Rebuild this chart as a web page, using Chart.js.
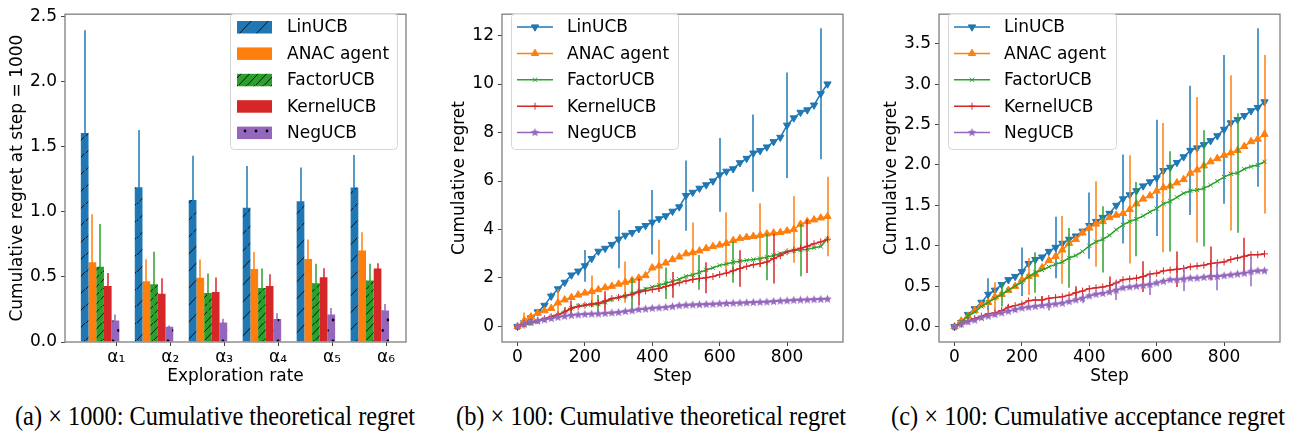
<!DOCTYPE html>
<html>
<head>
<meta charset="utf-8">
<script src="https://cdn.jsdelivr.net/npm/chart.js"></script>
<style>
  body { margin: 0; background: #fff; width: 1289px; height: 432px; overflow: hidden; position: relative; }
  canvas { position: absolute; top: 0; }
  .cap { position: absolute; top: 400px; font-family: "Liberation Serif", "Times New Roman", serif; font-size: 27px; line-height: 32px; white-space: nowrap; transform-origin: 0 50%; color: #000; }
</style>
</head>
<body>
<canvas id="chartA" width="430" height="390" style="left:0px"></canvas>
<canvas id="chartB" width="430" height="390" style="left:430px"></canvas>
<canvas id="chartC" width="429" height="390" style="left:860px"></canvas>
<div class="cap" id="capA">(a) × 1000: Cumulative theoretical regret</div>
<div class="cap" id="capB">(b) × 100: Cumulative theoretical regret</div>
<div class="cap" id="capC">(c) × 100: Cumulative acceptance regret</div>
<script>
// series names / colours (matplotlib tab10)
const names = ['LinUCB', 'ANAC agent', 'FactorUCB', 'KernelUCB', 'NegUCB'];
const colors = ['#1f77b4', '#ff7f0e', '#2ca02c', '#d62728', '#9467bd'];
const errColors = ['rgba(31,119,180,0.75)', 'rgba(255,127,14,0.75)', 'rgba(44,160,44,0.75)', 'rgba(214,39,40,0.75)', 'rgba(148,103,189,0.75)'];

// ---- (a) bar chart data ----
const alphaLabels = ['α₁', 'α₂', 'α₃', 'α₄', 'α₅', 'α₆'];
const alphaGroups = [0, 1, 2, 3, 4, 5];
const alphaTickPos = [0.3, 1.3, 2.3, 3.3, 4.3, 5.3];
const yTicksA = [0, 0.5, 1, 1.5, 2, 2.5];
const barLin = [1.606, 1.19, 1.092, 1.033, 1.082, 1.187];
const barLinErr = [0.79, 0.44, 0.34, 0.32, 0.26, 0.25];
const barAnac = [0.613, 0.467, 0.494, 0.561, 0.638, 0.703];
const barAnacErr = [0.37, 0.17, 0.14, 0.13, 0.15, 0.14];
const barFactor = [0.578, 0.444, 0.377, 0.415, 0.452, 0.472];
const barFactorErr = [0.33, 0.25, 0.15, 0.15, 0.15, 0.13];
const barKernel = [0.43, 0.37, 0.385, 0.43, 0.497, 0.566];
const barKernelErr = [0.10, 0.12, 0.11, 0.09, 0.07, 0.04];
const barNeg = [0.166, 0.117, 0.149, 0.176, 0.211, 0.243];
const barNegErr = [0.045, 0.01, 0.03, 0.045, 0.05, 0.05];

// ---- (b), (c) line chart data ----
const steps = [0, 20, 40, 60, 80, 100, 120, 140, 160, 180, 200, 220, 240, 260, 280, 300, 320, 340, 360, 380, 400, 420, 440, 460, 480, 500, 520, 540, 560, 580, 600, 620, 640, 660, 680, 700, 720, 740, 760, 780, 800, 820, 840, 860, 880, 900, 920];
const xTicksStep = [0, 200, 400, 600, 800];

const linB = [0, 0.15, 0.35, 0.6, 0.87, 1.25, 1.55, 1.82, 2.12, 2.28, 2.5, 2.8, 3.1, 3.22, 3.38, 3.6, 3.76, 3.87, 4.03, 4.16, 4.3, 4.44, 4.56, 4.75, 4.93, 5.4, 5.53, 5.7, 5.84, 6.0, 6.25, 6.4, 6.5, 6.75, 6.93, 7.15, 7.25, 7.4, 7.62, 7.8, 8.3, 8.6, 8.83, 8.93, 9.13, 9.6, 10.0];
const anacB = [0, 0.25, 0.4, 0.55, 0.65, 0.75, 0.98, 1.1, 1.2, 1.3, 1.38, 1.45, 1.52, 1.6, 1.66, 1.75, 1.83, 1.9, 2.0, 2.1, 2.42, 2.5, 2.62, 2.76, 2.87, 3.0, 3.05, 3.12, 3.22, 3.3, 3.36, 3.43, 3.55, 3.63, 3.68, 3.72, 3.76, 3.82, 3.86, 3.88, 3.94, 4.0, 4.22, 4.33, 4.4, 4.48, 4.54];
const factorB = [0, 0.05, 0.12, 0.2, 0.3, 0.4, 0.48, 0.6, 0.75, 0.85, 0.88, 0.9, 0.92, 1.0, 1.12, 1.2, 1.25, 1.35, 1.45, 1.55, 1.63, 1.7, 1.78, 1.86, 1.95, 2.07, 2.13, 2.23, 2.33, 2.42, 2.52, 2.58, 2.65, 2.69, 2.73, 2.76, 2.8, 2.86, 2.93, 3.01, 3.08, 3.13, 3.15, 3.18, 3.25, 3.3, 3.62];
const kernelB = [0, 0.12, 0.18, 0.25, 0.32, 0.4, 0.48, 0.6, 0.75, 0.82, 0.88, 0.93, 0.97, 1.05, 1.15, 1.2, 1.27, 1.33, 1.42, 1.47, 1.52, 1.57, 1.65, 1.72, 1.8, 1.88, 1.94, 1.98, 2.01, 2.06, 2.14, 2.2, 2.3, 2.39, 2.48, 2.55, 2.6, 2.66, 2.8, 2.92, 3.08, 3.15, 3.23, 3.31, 3.41, 3.49, 3.6];
const negB = [0, 0.1, 0.18, 0.23, 0.28, 0.33, 0.38, 0.42, 0.46, 0.48, 0.5, 0.51, 0.52, 0.54, 0.56, 0.58, 0.62, 0.65, 0.7, 0.72, 0.75, 0.77, 0.79, 0.82, 0.86, 0.88, 0.89, 0.9, 0.91, 0.92, 0.94, 0.95, 0.96, 0.97, 0.98, 0.99, 1.0, 1.01, 1.03, 1.05, 1.06, 1.08, 1.09, 1.1, 1.11, 1.12, 1.13];
// error half-widths, drawn every 5th point starting at offset = series index
const linBErr = [0.02, 0.15, 0.65, 1.2, 1.33, 1.45, 1.52, 1.59, 2.18, 2.7];
const anacBErr = [0.33, 0.57, 0.65, 0.85, 1.08, 1.24, 1.27, 1.32, 1.37, 1.64];
const factorBErr = [0.05, 0.2, 0.38, 0.65, 0.65, 0.72, 0.85, 0.95, 1.08];
const kernelBErr = [0.05, 0.32, 0.4, 0.55, 0.53, 0.64, 0.75, 1.03, 1.1];
const negBErr = [0.03, 0.04, 0.04, 0.05, 0.05, 0.05, 0.05, 0.05, 0.05];

const linC = [0, 0.05, 0.15, 0.22, 0.3, 0.4, 0.45, 0.52, 0.58, 0.62, 0.68, 0.78, 0.83, 0.86, 0.93, 0.98, 1.03, 1.08, 1.12, 1.18, 1.25, 1.3, 1.35, 1.4, 1.5, 1.58, 1.63, 1.68, 1.74, 1.79, 1.84, 1.93, 1.97, 2.03, 2.1, 2.18, 2.21, 2.25, 2.3, 2.36, 2.44, 2.52, 2.56, 2.61, 2.67, 2.71, 2.78];
const anacC = [0, 0.07, 0.13, 0.2, 0.27, 0.3, 0.37, 0.4, 0.45, 0.5, 0.58, 0.62, 0.65, 0.73, 0.82, 0.87, 0.95, 1.03, 1.08, 1.16, 1.22, 1.27, 1.3, 1.35, 1.38, 1.4, 1.45, 1.52, 1.58, 1.62, 1.68, 1.72, 1.74, 1.78, 1.82, 1.9, 1.94, 1.99, 2.04, 2.08, 2.12, 2.15, 2.18, 2.23, 2.29, 2.32, 2.38];
const factorC = [0, 0.06, 0.13, 0.18, 0.25, 0.3, 0.35, 0.4, 0.45, 0.5, 0.55, 0.62, 0.67, 0.7, 0.74, 0.77, 0.8, 0.85, 0.88, 0.93, 1.0, 1.05, 1.08, 1.13, 1.2, 1.26, 1.3, 1.33, 1.37, 1.42, 1.46, 1.52, 1.55, 1.6, 1.65, 1.68, 1.69, 1.71, 1.75, 1.8, 1.85, 1.89, 1.9, 1.95, 1.98, 2.0, 2.04];
const kernelC = [0, 0.03, 0.07, 0.1, 0.13, 0.16, 0.17, 0.2, 0.24, 0.26, 0.28, 0.32, 0.33, 0.33, 0.35, 0.36, 0.37, 0.39, 0.42, 0.44, 0.47, 0.48, 0.49, 0.51, 0.54, 0.58, 0.59, 0.6, 0.62, 0.65, 0.66, 0.69, 0.7, 0.71, 0.72, 0.74, 0.75, 0.76, 0.78, 0.79, 0.8, 0.83, 0.85, 0.87, 0.89, 0.89, 0.9];
const negC = [0, 0.03, 0.06, 0.08, 0.11, 0.13, 0.15, 0.17, 0.19, 0.21, 0.23, 0.24, 0.25, 0.26, 0.27, 0.28, 0.29, 0.31, 0.33, 0.35, 0.38, 0.4, 0.41, 0.43, 0.45, 0.48, 0.49, 0.5, 0.51, 0.52, 0.54, 0.56, 0.58, 0.58, 0.59, 0.6, 0.6, 0.61, 0.62, 0.62, 0.63, 0.64, 0.65, 0.66, 0.68, 0.69, 0.69];
const linCErr = [0.01, 0.2, 0.3, 0.38, 0.41, 0.55, 0.72, 0.8, 0.92, 0.98];
const anacCErr = [0.05, 0.18, 0.23, 0.42, 0.53, 0.67, 0.8, 0.9, 0.96, 0.98];
const factorCErr = [0.04, 0.15, 0.25, 0.37, 0.41, 0.46, 0.62, 0.72, 0.74];
const kernelCErr = [0.02, 0.03, 0.05, 0.08, 0.11, 0.19, 0.22, 0.21, 0.23];
const negCErr = [0.02, 0.03, 0.07, 0.06, 0.12, 0.13, 0.15, 0.17, 0.18];

const yTicksB = [0, 2, 4, 6, 8, 10, 12];
const yTicksC = [0, 0.5, 1, 1.5, 2, 2.5, 3, 3.5];

Chart.defaults.font.family = '"DejaVu Sans", sans-serif';
Chart.defaults.font.size = 17;
Chart.defaults.color = '#000';

// hatch fills for the bars: base colour + black marks
function makeHatch(base, kind) {
  if (kind === 'none') return base;
  const c = document.createElement('canvas');
  const w = kind === 'dots' ? 11 : 17, h = kind === 'dots' ? 21 : 17;
  c.width = w; c.height = h;
  const g = c.getContext('2d');
  g.fillStyle = base; g.fillRect(0, 0, w, h);
  g.strokeStyle = 'rgba(0,0,0,0.85)'; g.fillStyle = '#000'; g.lineWidth = 1;
  const diag = (o) => { g.beginPath(); g.moveTo(o - 17, 17 + 1); g.lineTo(o + 1, -1); g.stroke(); };
  if (kind === '/') { diag(17); diag(34); }
  if (kind === '//') { diag(8.5); diag(17); diag(25.5); diag(34); }
  if (kind === 'dots') {
    g.beginPath(); g.arc(3, 5, 1.4, 0, Math.PI * 2); g.fill();
    g.beginPath(); g.arc(8.5, 15.5, 1.4, 0, Math.PI * 2); g.fill();
  }
  return g.createPattern(c, 'repeat');
}

// filled 5-point star marker (matplotlib '*')
function starImage(color, r) {
  const c = document.createElement('canvas');
  const s = Math.ceil(r * 2 + 2);
  c.width = s; c.height = s;
  const g = c.getContext('2d');
  g.fillStyle = color; g.beginPath();
  for (let k = 0; k < 10; k++) {
    const rr = k % 2 ? r * 0.45 : r;
    const a = -Math.PI / 2 + k * Math.PI / 5;
    g.lineTo(s / 2 + rr * Math.cos(a), s / 2 + rr * Math.sin(a));
  }
  g.closePath(); g.fill();
  return c;
}

const frame = {
  id: 'frame',
  afterDatasetsDraw(chart) {
    const a = chart.chartArea, ctx = chart.ctx;
    ctx.save();
    ctx.strokeStyle = '#7f7f7f'; ctx.lineWidth = 1.3;
    ctx.strokeRect(a.left, a.top, a.right - a.left, a.bottom - a.top);
    ctx.restore();
  }
};

// error bars, drawn right after their own dataset
const errBars = {
  id: 'errBars',
  afterDatasetDraw(chart, args) {
    const ds = chart.data.datasets[args.index];
    if (!ds.errors) return;
    const ctx = chart.ctx, y = chart.scales.y, meta = args.meta, a = chart.chartArea;
    ctx.save();
    ctx.beginPath(); ctx.rect(a.left, a.top, a.right - a.left, a.bottom - a.top); ctx.clip();
    ctx.strokeStyle = ds.errColor; ctx.lineWidth = 2;
    ds.errors.forEach((e, j) => {
      const k = (ds.errOffset || 0) + (ds.errEvery || 1) * j;
      const el = meta.data[k];
      if (!el) return;
      const v = ds.data[k].y;
      const px = Math.round(el.x);
      ctx.beginPath();
      ctx.moveTo(px, y.getPixelForValue(v - e));
      ctx.lineTo(px, y.getPixelForValue(v + e));
      ctx.stroke();
    });
    ctx.restore();
  }
};

function roundRect(ctx, x, y, w, h, r) {
  ctx.beginPath();
  ctx.moveTo(x + r, y); ctx.lineTo(x + w - r, y); ctx.quadraticCurveTo(x + w, y, x + w, y + r);
  ctx.lineTo(x + w, y + h - r); ctx.quadraticCurveTo(x + w, y + h, x + w - r, y + h);
  ctx.lineTo(x + r, y + h); ctx.quadraticCurveTo(x, y + h, x, y + h - r);
  ctx.lineTo(x, y + r); ctx.quadraticCurveTo(x, y, x + r, y);
  ctx.closePath();
}

// boxed legend inside the plot, like matplotlib's
function boxLegend(box) {
  return {
    id: 'boxLegend',
    afterDraw(chart) {
      const ctx = chart.ctx;
      ctx.save();
      roundRect(ctx, box.x + 0.5, box.y + 0.5, box.w, box.h, 4);
      ctx.fillStyle = 'rgba(255,255,255,0.8)'; ctx.fill();
      ctx.strokeStyle = '#d6d6d6'; ctx.lineWidth = 1; ctx.stroke();
      chart.data.datasets.forEach((ds, i) => {
        const yy = box.y + 14 + 26.4 * i;
        if (chart.config.type === 'bar') {
          ctx.fillStyle = ds.backgroundColor;
          ctx.fillRect(box.x + 7, yy - 6, 35, 12.5);
        } else {
          ctx.strokeStyle = ds.borderColor; ctx.lineWidth = 1.5;
          ctx.beginPath(); ctx.moveTo(box.x + 6, yy); ctx.lineTo(box.x + 42, yy); ctx.stroke();
          ctx.fillStyle = ds.pointBackgroundColor; ctx.strokeStyle = ds.pointBorderColor; ctx.lineWidth = 1;
          if (Chart.helpers && Chart.helpers.drawPoint) {
            Chart.helpers.drawPoint(ctx, { pointStyle: ds.pointStyle, rotation: ds.pointRotation || 0, radius: ds.pointRadius, borderWidth: 1 }, box.x + 24, yy);
          }
        }
        ctx.fillStyle = '#000';
        ctx.font = '17px "DejaVu Sans"';
        ctx.textBaseline = 'middle';
        ctx.fillText(ds.label, box.x + box.tx, yy + 1);
      });
      ctx.restore();
    }
  };
}

function tickMarks() {
  return { display: true, drawOnChartArea: false, drawTicks: true, tickLength: 4, color: '#444', lineWidth: 1, offset: false };
}

// ---------- (a) ----------
const barVals = [barLin, barAnac, barFactor, barKernel, barNeg];
const barErrs = [barLinErr, barAnacErr, barFactorErr, barKernelErr, barNegErr];
const hatches = ['/', 'none', '//', 'none', 'dots'];

new Chart(document.getElementById('chartA'), {
  type: 'bar',
  data: {
    datasets: names.map((n, i) => ({
      label: n,
      data: alphaGroups.map((g, j) => ({ x: g, y: barVals[i][j] })),
      backgroundColor: makeHatch(colors[i], hatches[i]),
      borderWidth: 0,
      barPercentage: 1,
      categoryPercentage: 0.713,
      errors: barErrs[i],
      errColor: errColors[i]
    }))
  },
  options: {
    responsive: false, animation: false, devicePixelRatio: 1,
    layout: { padding: { top: 4, right: 24, bottom: 0, left: 0 }, autoPadding: false },
    plugins: { legend: { display: false }, tooltip: { enabled: false } },
    scales: {
      x: {
        type: 'linear', min: -0.65, max: 5.67, bounds: 'data', offset: false,
        grid: tickMarks(), border: { display: false },
        afterBuildTicks: s => { s.ticks = alphaTickPos.map(v => ({ value: v })); },
        ticks: { callback: (v, i) => alphaLabels[i], padding: 1, maxRotation: 0, autoSkip: false },
        title: { display: true, text: 'Exploration rate', padding: { top: 0, bottom: 3 } },
        afterFit: s => { s.height = 48; }
      },
      y: {
        min: 0, max: 2.52, bounds: 'data',
        grid: tickMarks(), border: { display: false },
        afterBuildTicks: s => { s.ticks = yTicksA.map(v => ({ value: v })); },
        ticks: { callback: v => v.toFixed(1), padding: 4 },
        title: { display: true, text: 'Cumulative regret at step = 1000', padding: { top: 7, bottom: 0 } },
        afterFit: s => { s.width = 65; }
      }
    }
  },
  plugins: [errBars, frame, boxLegend({ x: 230, y: 13, w: 167, h: 136, tx: 57 })]
});

// ---------- (b), (c) ----------
const markerStyles = [
  { pointStyle: 'triangle', pointRotation: 180, pointRadius: 4.2 },
  { pointStyle: 'triangle', pointRotation: 0, pointRadius: 4.2 },
  { pointStyle: 'crossRot', pointRotation: 0, pointRadius: 3 },
  { pointStyle: 'cross', pointRotation: 0, pointRadius: 3.5 },
  { pointStyle: starImage(colors[4], 4.5), pointRotation: 0, pointRadius: 4 }
];

function lineChart(id, vals, errs, cfg) {
  return new Chart(document.getElementById(id), {
    type: 'line',
    data: {
      datasets: names.map((n, i) => ({
        label: n,
        data: steps.map((s, j) => ({ x: s, y: vals[i][j] })),
        borderColor: colors[i],
        backgroundColor: colors[i],
        pointBackgroundColor: colors[i],
        pointBorderColor: colors[i],
        pointBorderWidth: 1,
        borderWidth: 1.5,
        tension: 0,
        order: 5 - i,
        errors: errs[i],
        errOffset: i,
        errEvery: 5,
        errColor: errColors[i],
        ...markerStyles[i]
      }))
    },
    options: {
      responsive: false, animation: false, devicePixelRatio: 1,
      layout: { padding: { top: 4, right: cfg.padRight, bottom: 0, left: 0 }, autoPadding: false },
      plugins: { legend: { display: false }, tooltip: { enabled: false } },
      scales: {
        x: {
          type: 'linear', min: -46, max: 966, bounds: 'data',
          grid: tickMarks(), border: { display: false },
          afterBuildTicks: s => { s.ticks = xTicksStep.map(v => ({ value: v })); },
          ticks: { padding: 1, maxRotation: 0, autoSkip: false, callback: v => String(v) },
          title: { display: true, text: 'Step', padding: { top: 0, bottom: 3 } },
          afterFit: s => { s.height = 48; }
        },
        y: {
          type: 'linear', min: cfg.yMin, max: cfg.yMax, bounds: 'data',
          grid: tickMarks(), border: { display: false },
          afterBuildTicks: s => { s.ticks = cfg.yTicks.map(v => ({ value: v })); },
          ticks: { callback: cfg.yFmt, padding: 4 },
          title: { display: true, text: 'Cumulative regret', padding: { top: cfg.titlePad, bottom: 0 } },
          afterFit: s => { s.width = cfg.yWidth; }
        }
      }
    },
    plugins: [errBars, frame, boxLegend(cfg.legend)]
  });
}

lineChart('chartB', [linB, anacB, factorB, kernelB, negB], [linBErr, anacBErr, factorBErr, kernelBErr, negBErr], {
  padRight: 17, yWidth: 72, titlePad: 19.5, yMin: -0.64, yMax: 12.88, yTicks: yTicksB,
  yFmt: v => String(v), legend: { x: 81, y: 13, w: 167, h: 136, tx: 56 }
});

lineChart('chartC', [linC, anacC, factorC, kernelC, negC], [linCErr, anacCErr, factorCErr, kernelCErr, negCErr], {
  padRight: 9, yWidth: 79, titlePad: 21, yMin: -0.19, yMax: 3.865, yTicks: yTicksC,
  yFmt: v => v.toFixed(1), legend: { x: 88, y: 13, w: 168, h: 136, tx: 56 }
});

// captions: centred under each panel, squeezed to the reference width
const capTargets = [['capA', 215, 400], ['capB', 651, 390], ['capC', 1088, 394]];
capTargets.forEach(([id, cx, w]) => {
  const el = document.getElementById(id);
  const natural = el.getBoundingClientRect().width;
  el.style.left = (cx - w / 2) + 'px';
  el.style.transform = 'scaleX(' + (w / natural) + ')';
});
</script>
</body>
</html>
